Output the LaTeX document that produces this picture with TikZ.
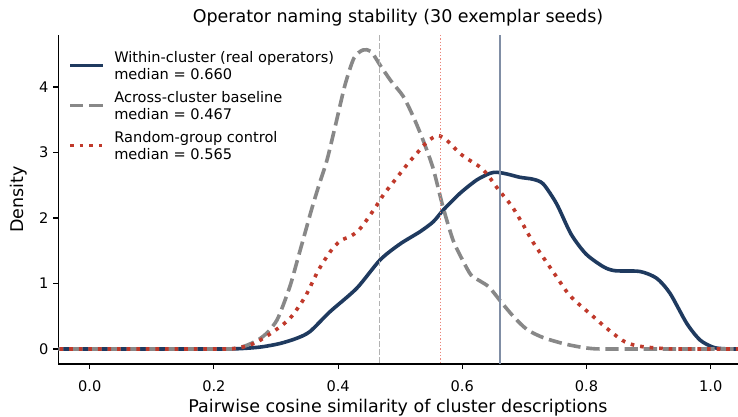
\documentclass[tikz,border=0pt]{standalone}
\usepackage{fontspec}
\setmainfont{DejaVu Sans}
\definecolor{navy}{RGB}{31,58,95}
\definecolor{curvegray}{RGB}{136,136,136}
\definecolor{curvered}{RGB}{192,57,43}
\definecolor{mednavy}{RGB}{128,142,165}
\definecolor{medgray}{RGB}{178,178,178}
\definecolor{medred}{RGB}{236,135,125}
\begin{document}
\begin{tikzpicture}[x=0.72pt,y=-0.72pt,
  navyline/.style={draw=navy, line width=2.6pt, line join=round},
  grayline/.style={draw=curvegray, line width=2.6pt, dash pattern=on 9.6pt off 4.2pt, line join=round},
  redline/.style={draw=curvered, line width=2.6pt, dash pattern=on 2.6pt off 4.3pt, line join=round},
  spine/.style={line width=0.85pt, draw=black},
  tickmark/.style={line width=0.85pt, draw=black},
  ticklab/.style={font=\fontsize{10.5}{12}\selectfont, inner sep=0pt},
  biglab/.style={font=\fontsize{12.6}{15}\selectfont, inner sep=0pt},
  legtext/.style={font=\fontsize{10.5}{12}\selectfont, inner sep=0pt, align=left, anchor=west}]
\useasboundingbox (0,0) rectangle (738,417);

% axes spines
\coordinate (axtop) at (58.3,35);
\coordinate (axorig) at (58.3,364);
\coordinate (axright) at (738,364);
\draw[spine] (axtop) -- (axorig) -- (axright);

% x ticks
\foreach \i/\x/\lab in {0/89.7/0.0,1/213.9/0.2,2/338.1/0.4,3/462.3/0.6,4/586.5/0.8,5/710.7/1.0}{
  \coordinate (xa\i) at (\x,364);
  \coordinate (xb\i) at (\x,368.9);
  \draw[tickmark] (xa\i) -- (xb\i);
  \node[ticklab, anchor=base] (xt\i) at (\x,391.5) {\lab};
}
% y ticks
\foreach \i/\y in {0/349,1/283.5,2/218,3/152.5,4/87}{
  \coordinate (ya\i) at (58.3,\y);
  \coordinate (yb\i) at (53.4,\y);
  \draw[tickmark] (ya\i) -- (yb\i);
  \node[ticklab, anchor=east] (yt\i) at (48.8,\y) {\i};
}

% labels
\node[biglab] (title) at (398,18) {Operator naming stability (30 exemplar seeds)};
\node[biglab] (xlabel) at (398,408) {Pairwise cosine similarity of cluster descriptions};
\node[biglab, rotate=90] (ylabel) at (19,199.5) {Density};

% curves
\begin{scope}
\clip (58.3,20) rectangle (738,366);
\draw[navyline] plot[smooth, tension=0.45] coordinates {
(50,349) (150,349) (220,349) (236,348.8) (250,348) (263,346.7) (280,343.5) (296.7,338.3)
(310,331.5) (330,311.7) (356.7,288.3) (380,260) (400,244) (420,231.7) (433.3,221.7)
(443.3,210) (460,193.3) (476.7,180) (490,173.3) (497,172.3) (507,174) (520,177.3)
(533.3,179.3) (543.3,184) (556.7,204) (571,234) (586,254) (603.3,266.7) (615,270.7)
(640,271.5) (656.7,278.3) (670,293.3) (686.7,323.3) (700,340) (713.3,347.3) (725,348.8) (745,349)};
\draw[grayline] plot[smooth, tension=0.45] coordinates {
(50,349) (150,349) (222,349) (233,348.7) (245,346) (258,340) (268,332) (277,320)
(284,303) (291,283) (298,258) (305,233) (312,208) (319,185) (327,160) (336,123)
(345,85) (354,58) (363,50) (371,51.5) (380,65) (391,81) (403,96) (413,116)
(423,140) (433,168) (443,207) (453,240) (462,259) (471,275) (480,281) (489,287)
(500,300.5) (513,316) (527,329.5) (543,337.5) (563,343.5) (580,347) (595,348.8) (620,349) (745,349)};
\draw[redline] plot[smooth, tension=0.45] coordinates {
(50,349) (150,349) (222,349) (233,348.7) (245,346.5) (257,342) (273.3,331.7) (290,318.3)
(305,297) (318,271) (330,252) (340,241) (350,236.5) (358,231) (366,221) (377,205)
(384,194) (395,180) (408,163.5) (418,152) (428,141) (438,135.5) (447,140.5)
(460,153.5) (470,160.5) (480,167) (487,174) (498,189) (511.7,206) (522.7,224)
(532.7,241.7) (544,258.5) (556,276) (567.7,293) (577,302.5) (590.7,314.3) (606,327.7)
(622.3,340.3) (633,344.8) (645,347) (663,348.5) (680,349) (745,349)};
\end{scope}

% median lines
\coordinate (mgt) at (379.7,35);  \coordinate (mgb) at (379.7,364);
\coordinate (mrt) at (440.6,35);  \coordinate (mrb) at (440.6,364);
\coordinate (mnt) at (499.6,35);  \coordinate (mnb) at (499.6,364);
\draw[medgray, line width=1pt, dash pattern=on 4pt off 1.8pt] (mgt) -- (mgb);
\draw[medred, line width=0.9pt, dash pattern=on 0.9pt off 1.5pt] (mrt) -- (mrb);
\draw[mednavy, line width=1.3pt] (mnt) -- (mnb);

% legend
\coordinate (l1a) at (70,65.5);  \coordinate (l1b) at (102.5,65.5);
\coordinate (l2a) at (70,105.5); \coordinate (l2b) at (102.5,105.5);
\coordinate (l3a) at (70,145.5); \coordinate (l3b) at (102.5,145.5);
\draw[navyline] (l1a) -- (l1b);
\draw[grayline] (l2a) -- (l2b);
\draw[redline] (l3a) -- (l3b);
\node[legtext] (leg1) at (114,65.5) {Within-cluster (real operators)\\median = 0.660};
\node[legtext] (leg2) at (114,105.5) {Across-cluster baseline\\median = 0.467};
\node[legtext] (leg3) at (114,145.5) {Random-group control\\median = 0.565};
\end{tikzpicture}
\end{document}
